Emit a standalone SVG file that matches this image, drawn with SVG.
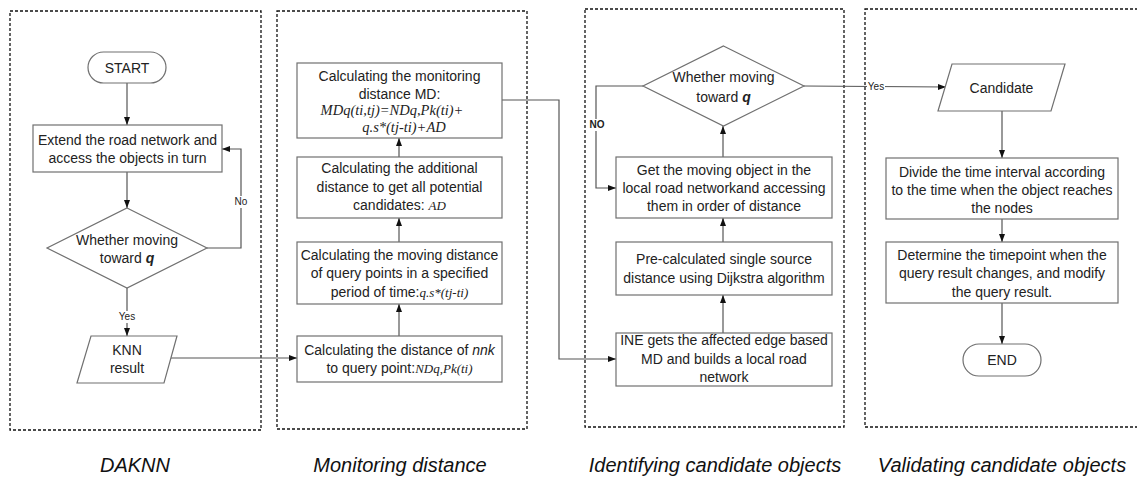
<svg xmlns="http://www.w3.org/2000/svg" width="1137" height="477" viewBox="0 0 1137 477">
<defs>
<marker id="arr" markerUnits="userSpaceOnUse" markerWidth="8" markerHeight="8" viewBox="0 0 8 8" refX="8" refY="4" orient="auto">
<path d="M0,1 L8,4 L0,7 Z" fill="#111"/>
</marker>
<style>
.panel{fill:none;stroke:#111;stroke-width:1.3;stroke-dasharray:3 2}
.shape{fill:#fff;stroke:#707070;stroke-width:1.2}
.conn{fill:none;stroke:#555;stroke-width:1.2}
.t{font-family:"Liberation Sans",Arial,sans-serif;font-size:14px;fill:#222;text-anchor:middle}
.m{font-family:"Liberation Serif","Times New Roman",serif;font-style:italic;font-size:13px}
.f{font-family:"Liberation Serif","Times New Roman",serif;font-style:italic;font-size:14.5px;fill:#222;text-anchor:middle}
.lab{font-family:"Liberation Sans",Arial,sans-serif;font-size:10px;fill:#222;text-anchor:middle}
.cap{font-family:"Liberation Sans",Arial,sans-serif;font-size:20px;font-style:italic;fill:#111;text-anchor:middle}
</style>
</defs>
<rect width="1137" height="477" fill="#fff"/>
<g id="panels">
<rect class="panel" x="10" y="11" width="251" height="419"/>
<rect class="panel" x="277" y="11" width="250" height="418"/>
<rect class="panel" x="585" y="9" width="259" height="418"/>
<rect class="panel" x="865" y="9" width="290" height="418"/>
</g>
<g id="connectors">
<line class="conn" x1="127" y1="83" x2="127" y2="125" marker-end="url(#arr)"/>
<line class="conn" x1="127" y1="172" x2="127" y2="208" marker-end="url(#arr)"/>
<polyline class="conn" points="207,248 241,248 241,149 222,149" marker-end="url(#arr)"/>
<line class="conn" x1="127" y1="288" x2="127" y2="336" marker-end="url(#arr)"/>
<line class="conn" x1="171" y1="358" x2="297" y2="358" marker-end="url(#arr)"/>
<line class="conn" x1="399" y1="336" x2="399" y2="304" marker-end="url(#arr)"/>
<line class="conn" x1="399" y1="242" x2="399" y2="218" marker-end="url(#arr)"/>
<line class="conn" x1="399" y1="157" x2="399" y2="138" marker-end="url(#arr)"/>
<polyline class="conn" points="502,100 559,100 559,359 616,359" marker-end="url(#arr)"/>
<line class="conn" x1="723" y1="333" x2="723" y2="295" marker-end="url(#arr)"/>
<line class="conn" x1="723" y1="242" x2="723" y2="218" marker-end="url(#arr)"/>
<line class="conn" x1="723" y1="157" x2="723" y2="126" marker-end="url(#arr)"/>
<polyline class="conn" points="643,86 596,86 596,188 616,188" marker-end="url(#arr)"/>
<line class="conn" x1="804" y1="86" x2="946" y2="87" marker-end="url(#arr)"/>
<line class="conn" x1="1002" y1="111" x2="1002" y2="158" marker-end="url(#arr)"/>
<line class="conn" x1="1002" y1="219" x2="1002" y2="242" marker-end="url(#arr)"/>
<line class="conn" x1="1002" y1="303" x2="1002" y2="344" marker-end="url(#arr)"/>
<rect x="234" y="196" width="14" height="12" fill="#fff"/>
<text class="lab" x="241" y="205">No</text>
<rect x="118" y="311" width="18" height="12" fill="#fff"/>
<text class="lab" x="127" y="320">Yes</text>
<rect x="589" y="119" width="16" height="12" fill="#fff"/>
<text class="lab" x="597" y="128" font-weight="bold">NO</text>
<rect x="867" y="81" width="18" height="12" fill="#fff"/>
<text class="lab" x="876" y="90">Yes</text>
</g>
<g id="start">
<rect class="shape" x="88" y="52" width="78" height="31" rx="15.5"/>
<text class="t" x="127" y="73">START</text>
</g>
<g id="extend">
<rect class="shape" x="33" y="125" width="189" height="47"/>
<text class="t" x="127.5" y="145">Extend the road network and</text>
<text class="t" x="127.5" y="163">access the objects in turn</text>
</g>
<g id="decision1">
<polygon class="shape" points="127,208 207,248 127,288 47,248"/>
<text class="t" x="127" y="245">Whether moving</text>
<text class="t" x="127" y="263">toward <tspan font-weight="bold" font-style="italic">q</tspan></text>
</g>
<g id="knn">
<polygon class="shape" points="91,336 177,336 164,383 77,383"/>
<text class="t" x="127" y="355">KNN</text>
<text class="t" x="127" y="373">result</text>
</g>
<g id="nnk">
<rect class="shape" x="297" y="336" width="205" height="46"/>
<text class="t" x="399.5" y="355">Calculating the distance of <tspan font-style="italic">nnk</tspan></text>
<text class="t" x="399.5" y="373">to query point:<tspan class="m">NDq,Pk(ti)</tspan></text>
</g>
<g id="moving">
<rect class="shape" x="297" y="242" width="205" height="62"/>
<text class="t" x="399.5" y="260">Calculating the moving distance</text>
<text class="t" x="399.5" y="278">of query points in a specified</text>
<text class="t" x="399.5" y="297">period of time:<tspan class="m">q.s*(tj-ti)</tspan></text>
</g>
<g id="additional">
<rect class="shape" x="297" y="157" width="205" height="61"/>
<text class="t" x="399.5" y="173">Calculating the additional</text>
<text class="t" x="399.5" y="192">distance to get all potential</text>
<text class="t" x="399.5" y="210">candidates: <tspan class="m">AD</tspan></text>
</g>
<g id="monitoring">
<rect class="shape" x="297" y="63" width="205" height="75"/>
<text class="t" x="399.5" y="81">Calculating the monitoring</text>
<text class="t" x="399.5" y="99">distance MD:</text>
<text class="f" x="392" y="115">MDq(ti,tj)=NDq,Pk(ti)+</text>
<text class="f" x="404" y="132">q.s*(tj-ti)+AD</text>
</g>
<g id="ine">
<rect class="shape" x="616" y="333" width="216" height="53"/>
<text class="t" x="724" y="345">INE gets the affected edge based</text>
<text class="t" x="724" y="364">MD  and builds a local road</text>
<text class="t" x="724" y="382">network</text>
</g>
<g id="dijkstra">
<rect class="shape" x="616" y="242" width="216" height="53"/>
<text class="t" x="724" y="264">Pre-calculated single source</text>
<text class="t" x="724" y="283">distance using Dijkstra algorithm</text>
</g>
<g id="getobj">
<rect class="shape" x="616" y="157" width="216" height="61"/>
<text class="t" x="724" y="175">Get the moving object in the</text>
<text class="t" x="724" y="193">local road networkand accessing</text>
<text class="t" x="724" y="211">them in order of distance</text>
</g>
<g id="decision2">
<polygon class="shape" points="723.5,46 804,86 723.5,126 643,86"/>
<text class="t" x="723.5" y="82">Whether moving</text>
<text class="t" x="723.5" y="102">toward <tspan font-weight="bold" font-style="italic">q</tspan></text>
</g>
<g id="candidate">
<polygon class="shape" points="952,64 1065,64 1051,111 938,111"/>
<text class="t" x="1001.5" y="93">Candidate</text>
</g>
<g id="divide">
<rect class="shape" x="886" y="158" width="232" height="61"/>
<text class="t" x="1002" y="177">Divide the time interval according</text>
<text class="t" x="1002" y="195">to the time when the object reaches</text>
<text class="t" x="1002" y="213">the nodes</text>
</g>
<g id="determine">
<rect class="shape" x="886" y="242" width="232" height="61"/>
<text class="t" x="1002" y="260">Determine the timepoint when the</text>
<text class="t" x="1002" y="278">query result changes, and modify</text>
<text class="t" x="1002" y="297">the query result.</text>
</g>
<g id="end">
<rect class="shape" x="963" y="344" width="78" height="32" rx="16"/>
<text class="t" x="1002" y="365">END</text>
</g>
<g id="captions">
<text class="cap" x="135" y="472" font-size="18">DAKNN</text>
<text class="cap" x="400" y="472">Monitoring distance</text>
<text class="cap" x="715" y="472">Identifying candidate objects</text>
<text class="cap" x="1002" y="472">Validating candidate objects</text>
</g>
</svg>
